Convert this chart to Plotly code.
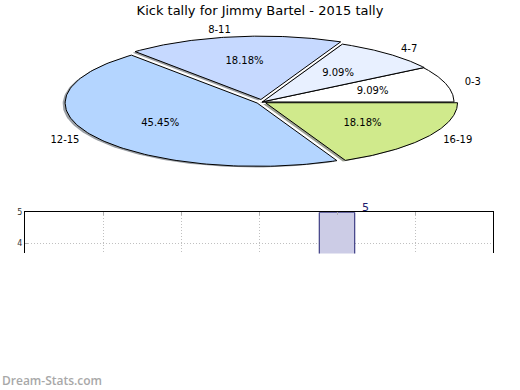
import numpy as np
import plotly.graph_objects as go

# ---- data ----
labels = ["0-3", "4-7", "8-11", "12-15", "16-19"]
values = [1, 1, 2, 5, 2]
colors = ["#FFFFFF", "#E8F0FF", "#C6D9FF", "#B4D5FF", "#D0EA8C"]
explode = [0.0, 0.005, 0.04, 0.03, 0.022]

bar_cats = [1, 2, 3, 4, 5]          # positions of the categories on the lower chart
bar_vals = [1, 1, 2, 5, 2]
y_tick_vals = [4, 5]

title = "Kick tally for Jimmy Bartel - 2015 tally"
watermark = "Dream-Stats.com"

# ---- geometry / style ----
W, H = 520, 390
CX, CY, RX, RY = 262, 99, 192, 64   # pie centre and radii in pixels
FONT = "DejaVu Sans"

fig = go.Figure()

total = float(sum(values))
fracs = [v / total for v in values]
starts = np.concatenate([[0.0], np.cumsum(fracs)[:-1]]) * 2 * np.pi
ends = np.cumsum(fracs) * 2 * np.pi


def wedge(i, ox=0.0, oy=0.0):
    t1, t2 = starts[i], ends[i]
    mid = (t1 + t2) / 2
    dx = explode[i] * np.cos(mid) + ox
    dy = explode[i] * np.sin(mid) + oy
    t = np.linspace(t1, t2, 120)
    xs = np.concatenate([[dx], dx + np.cos(t), [dx]])
    ys = np.concatenate([[dy], dy + np.sin(t), [dy]])
    return xs, ys, mid, dx, dy


def hex_rgb(h):
    h = h.lstrip("#")
    return tuple(int(h[k:k + 2], 16) for k in (0, 2, 4))


# shadows (behind everything)
for i in range(len(values)):
    xs, ys, *_ = wedge(i, -0.013, -0.018)
    r, g, b = hex_rgb(colors[i])
    c = f"rgba({int(r*0.3)},{int(g*0.3)},{int(b*0.3)},0.5)"
    fig.add_trace(go.Scatter(x=xs, y=ys, mode="lines", fill="toself",
                             fillcolor=c, line=dict(width=0),
                             hoverinfo="skip", showlegend=False,
                             xaxis="x", yaxis="y"))

# wedges
for i in range(len(values)):
    xs, ys, *_ = wedge(i)
    fig.add_trace(go.Scatter(x=xs, y=ys, mode="lines", fill="toself",
                             fillcolor=colors[i], line=dict(width=1, color="black"),
                             hoverinfo="skip", showlegend=False,
                             xaxis="x", yaxis="y"))

# labels
for i in range(len(values)):
    _, _, mid, dx, dy = wedge(i)
    fig.add_trace(go.Scatter(x=[dx + 0.6 * np.cos(mid)], y=[dy + 0.6 * np.sin(mid)],
                             mode="text", text=[f"{fracs[i]*100:.2f}%"],
                             textposition="middle center",
                             textfont=dict(family=FONT, size=10, color="black"),
                             hoverinfo="skip", showlegend=False, xaxis="x", yaxis="y"))
    lx = dx + 1.1 * np.cos(mid)
    ly = dy + 1.1 * np.sin(mid)
    fig.add_trace(go.Scatter(x=[lx], y=[ly], mode="text", text=[labels[i]],
                             textposition="middle right" if lx > 0 else "middle left",
                             textfont=dict(family=FONT, size=10, color="black"),
                             hoverinfo="skip", showlegend=False, xaxis="x", yaxis="y"))

# lower bar chart (cut off)
y_lo = 5 - 41.5 / 31.0
fig.add_trace(go.Bar(x=bar_cats, y=bar_vals, width=0.455,
                     marker=dict(color="#CCCCE6", line=dict(color="#1C1C6E", width=1)),
                     hoverinfo="skip", showlegend=False, xaxis="x2", yaxis="y2"))
for cx_, v in zip(bar_cats, bar_vals):
    if v >= y_lo:
        fig.add_annotation(x=cx_, y=v, xref="x2", yref="y2", text=str(v),
                           showarrow=False, xanchor="center", yanchor="bottom",
                           xshift=28, yshift=-4,
                           font=dict(family=FONT, size=11, color="#1C1C6E"))

fig.add_annotation(x=0, y=1 - 380 / H, xref="paper", yref="paper", text=watermark,
                   showarrow=False, xanchor="left", yanchor="middle",
                   font=dict(family="Open Sans", size=12, color="#A8A8A8", weight=600))

fig.update_layout(
    width=W, height=H, autosize=False,
    margin=dict(l=0, r=0, t=0, b=0),
    paper_bgcolor="white", plot_bgcolor="rgba(0,0,0,0)",
    title=dict(text=title, x=0.5, xanchor="center", y=1 - 10 / H, yanchor="middle",
               font=dict(family=FONT, size=13, color="black")),
    xaxis=dict(domain=[0, 1], range=[-CX / RX, (W - CX) / RX], visible=False, fixedrange=True),
    yaxis=dict(domain=[0, 1], range=[-(H - CY) / RY, CY / RY], visible=False, fixedrange=True),
    xaxis2=dict(domain=[25 / W, 493 / W], range=[0, 6], anchor="y2", side="top",
                showline=True, linecolor="black", linewidth=1, mirror=False,
                showgrid=True, gridcolor="#C0C0C0", griddash="1px,2px", gridwidth=1,
                dtick=1, tick0=0, showticklabels=False, ticks="inside", ticklen=3,
                tickcolor="#B0B0B0", zeroline=False, fixedrange=True),
    yaxis2=dict(domain=[(H - 252) / H, (H - 210.5) / H], range=[y_lo, 5], anchor="x2",
                showline=True, linecolor="black", linewidth=1, mirror=True,
                showgrid=True, gridcolor="#C0C0C0", griddash="1px,2px", gridwidth=1,
                tickvals=y_tick_vals, ticks="inside", ticklen=3, tickcolor="#B0B0B0",
                tickfont=dict(family=FONT, size=8, color="#333333"), zeroline=False,
                fixedrange=True),
)

fig.write_html("out.html", config={"displayModeBar": False},
               post_script="document.body.style.margin='0';")
